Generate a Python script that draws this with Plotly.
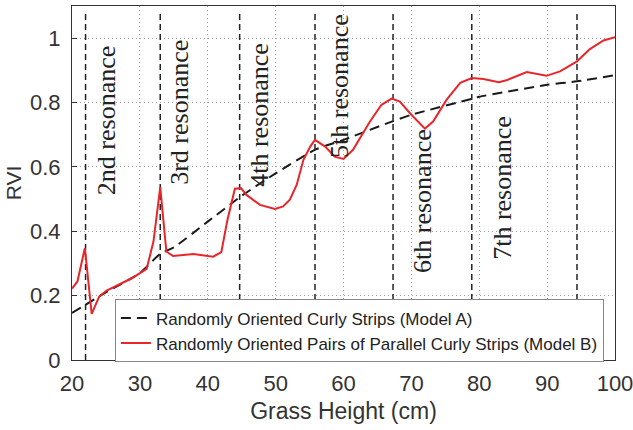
import plotly.graph_objects as go

# Model A: randomly oriented curly strips
height_a = [20, 25, 30, 33, 35, 40, 45, 50, 56, 60, 67, 70, 79, 80, 90, 94.4, 100]
rvi_a = [0.146, 0.21, 0.27, 0.33, 0.35, 0.43, 0.51, 0.58, 0.655, 0.684, 0.74, 0.762, 0.812, 0.818, 0.855, 0.866, 0.885]

# Model B: randomly oriented pairs of parallel curly strips
height_b = [20, 20.8, 21.9, 22.9, 24.0, 25.1, 26.8, 28.8, 31.0, 32.0, 33.0, 33.9, 34.9, 36.4,
            37.9, 40.8, 42.0, 42.9, 44.0, 44.9, 45.7, 47.7, 49.9, 51.1, 52.1, 53.1, 54.1,
            55.1, 55.8, 57.3, 58.7, 60.0, 61.4, 63.9, 65.6, 67.1, 68.3, 70.0, 72.0, 73.2,
            75.2, 77.2, 78.9, 80.6, 82.9, 84.0, 87.0, 89.9, 91.9, 94.4, 96.3, 98.3, 100]
rvi_b = [0.222, 0.244, 0.348, 0.143, 0.197, 0.216, 0.233, 0.254, 0.283, 0.368, 0.537, 0.337,
         0.323, 0.327, 0.329, 0.321, 0.335, 0.435, 0.532, 0.534, 0.513, 0.482, 0.469, 0.477,
         0.498, 0.544, 0.622, 0.663, 0.684, 0.663, 0.632, 0.625, 0.653, 0.741, 0.793, 0.812,
         0.803, 0.762, 0.719, 0.741, 0.809, 0.861, 0.876, 0.873, 0.863, 0.869, 0.895, 0.883,
         0.897, 0.928, 0.966, 0.993, 1.003]

# Resonance heights and their labels
resonance_x = [22, 33, 44.7, 55.8, 67.3, 78.9, 94.4]
label_text = ["2nd resonance", "3rd resonance", "4th resonance", "5th resonance",
              "6th resonance", "7th resonance"]
label_x = [25.2, 35.9, 47.7, 59.5, 71.6, 83.5]
label_y = [0.743, 0.771, 0.762, 0.852, 0.495, 0.535]

x_ticks = [20, 30, 40, 50, 60, 70, 80, 90, 100]
y_ticks = [0, 0.2, 0.4, 0.6, 0.8, 1]

fig = go.Figure()

# vertical resonance markers
vx, vy = [], []
for r in resonance_x:
    vx += [r, r, None]
    vy += [0, 1.085, None]
fig.add_trace(go.Scatter(x=vx, y=vy, mode="lines", showlegend=False, hoverinfo="skip",
                         line=dict(color="#222222", width=1.5, dash="6px,4px")))

fig.add_trace(go.Scatter(x=height_a, y=rvi_a, mode="lines",
                         name="Randomly Oriented Curly Strips (Model A)",
                         line=dict(color="#1a1a1a", width=2, dash="10px,6px", shape="spline",
                                   smoothing=0.6)))
fig.add_trace(go.Scatter(x=height_b, y=rvi_b, mode="lines",
                         name="Randomly Oriented Pairs of Parallel Curly Strips (Model B)",
                         line=dict(color="#e8262a", width=2)))

for t, x, y in zip(label_text, label_x, label_y):
    fig.add_annotation(x=x, y=y, text=t, showarrow=False, textangle=-90,
                       font=dict(family="Liberation Serif", size=26, color="#222222"))

axis_common = dict(showline=True, linecolor="#333333", linewidth=1, mirror=True,
                   ticks="inside", ticklen=5, tickcolor="#333333",
                   showgrid=True, gridcolor="#a0a0a0", gridwidth=1, griddash="1px,3px",
                   zeroline=False, automargin=False, ticklabeloverflow="allow",
                   tickfont=dict(family="Liberation Sans", size=22, color="#333333"))

fig.update_xaxes(range=[20, 100], tickvals=x_ticks, title_text="Grass Height (cm)",
                 title_font=dict(family="Liberation Sans", size=23, color="#333333"),
                 title_standoff=7, ticklabelstandoff=4, **axis_common)
fig.update_yaxes(range=[0, 1.1], tickvals=y_ticks, ticktext=["0", "0.2", "0.4", "0.6", "0.8", "1"],
                 title_text="RVI",
                 title_font=dict(family="Liberation Sans", size=21, color="#333333"),
                 title_standoff=2, ticklabelstandoff=6, **axis_common)

fig.update_layout(
    width=633, height=430,
    margin=dict(l=72, r=18, t=6, b=70),
    plot_bgcolor="white", paper_bgcolor="white",
    legend=dict(x=0.079, y=0.171, xanchor="left", yanchor="top",
                bgcolor="white", bordercolor="#888888", borderwidth=1,
                font=dict(family="Liberation Sans", size=17, color="#222222"),
                tracegroupgap=0, itemwidth=30),
)

fig.write_html("out.html")
